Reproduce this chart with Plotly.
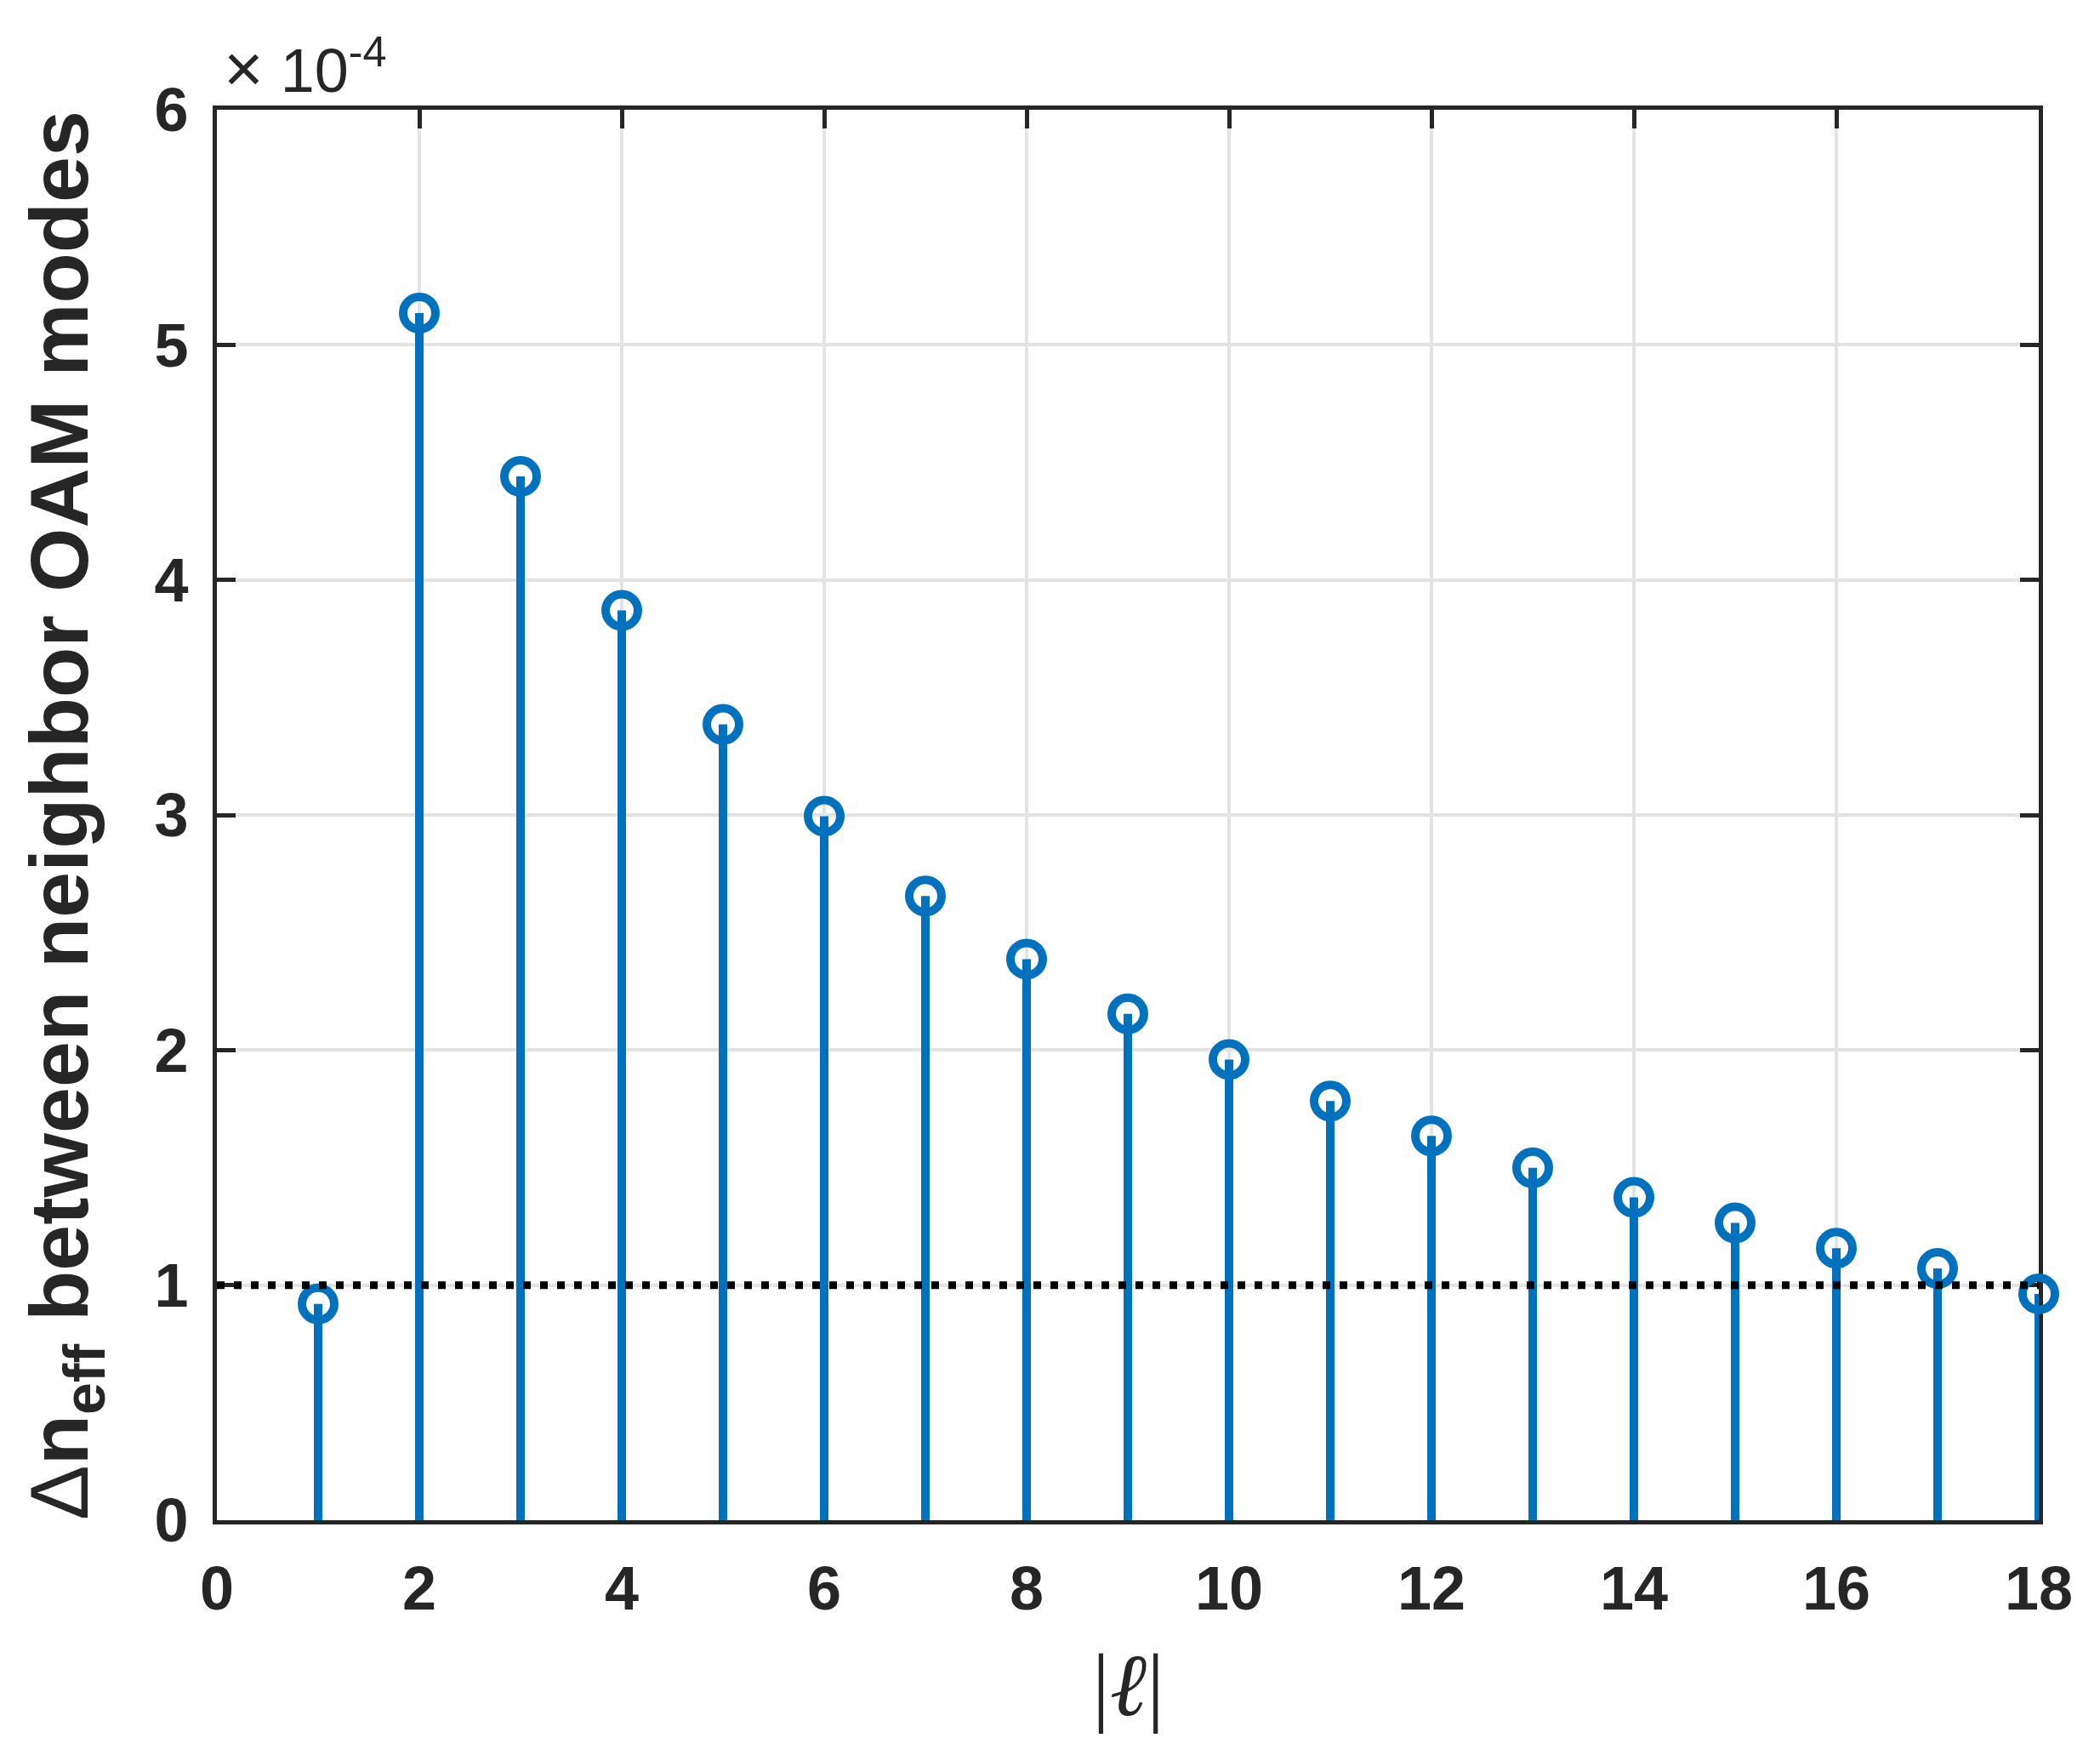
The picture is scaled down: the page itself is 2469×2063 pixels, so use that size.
import plotly.graph_objects as go

# |l| values and delta n_eff (in units of 1e-4)
ell = [1, 2, 3, 4, 5, 6, 7, 8, 9, 10, 11, 12, 13, 14, 15, 16, 17, 18]
dneff_e4 = [0.92, 5.135, 4.44, 3.87, 3.385, 2.995, 2.655, 2.387, 2.154, 1.96,
            1.783, 1.635, 1.499, 1.373, 1.265, 1.157, 1.071, 0.963]
threshold_e4 = 1.0

x_ticks = [0, 2, 4, 6, 8, 10, 12, 14, 16, 18]
y_ticks = [0, 1, 2, 3, 4, 5, 6]

blue = '#0072BD'
ink = '#262626'
font = 'Liberation Sans'

# stems: one segment per point, separated by None
stem_x, stem_y = [], []
for l, v in zip(ell, dneff_e4):
    stem_x += [l, l, None]
    stem_y += [0, v, None]

fig = go.Figure()
fig.add_trace(go.Scatter(
    x=stem_x, y=stem_y, mode='lines',
    line=dict(color=blue, width=10),
    hoverinfo='skip', showlegend=False
))
fig.add_trace(go.Scatter(
    x=ell, y=dneff_e4, mode='markers',
    marker=dict(symbol='circle-open', size=38, color=blue, line=dict(width=10, color=blue)),
    cliponaxis=False, showlegend=False
))
# dotted threshold line
fig.add_trace(go.Scatter(
    x=[x_ticks[0], x_ticks[-1]], y=[threshold_e4, threshold_e4], mode='lines',
    line=dict(color='black', width=9, dash='9px,11px'),
    hoverinfo='skip', showlegend=False
))

axis_common = dict(
    showline=True, linewidth=5, linecolor=ink, mirror='ticks',
    ticks='inside', ticklen=22, tickwidth=5, tickcolor=ink,
    showgrid=True, gridcolor='#e3e3e3', gridwidth=4,
    zeroline=False, layer='below traces',
    tickfont=dict(family=font, size=72, color=ink, weight='bold'),
)

fig.update_xaxes(range=[0, 18], tickvals=x_ticks, ticklabelstandoff=14, **axis_common)
fig.update_yaxes(range=[0, 6], tickvals=y_ticks, ticklabelstandoff=14, **axis_common)

# page body has an 8px margin, so the figure is a bit smaller than the window
fig.update_layout(
    width=2453, height=2047,
    margin=dict(l=247, r=64, t=121, b=268),
    plot_bgcolor='white', paper_bgcolor='white',
    annotations=[
        dict(text='Δ<b>n<sub>eff</sub> between neighbor OAM modes</b>',
             xref='paper', yref='paper', x=-0.113, y=0.5,
             xanchor='left', yanchor='middle', textangle=-90, showarrow=False,
             font=dict(family=font, size=97, color=ink)),
        dict(text='|<i>ℓ</i>|',
             xref='paper', yref='paper', x=0.5, y=-0.117,
             xanchor='center', yanchor='middle', showarrow=False,
             font=dict(family='Liberation Serif', size=104, color=ink)),
        dict(text='<span style="font-size:80px">×</span> 10<sup>-4</sup>',
             xref='paper', yref='paper', x=0.003, y=1,
             xanchor='left', yanchor='bottom', yshift=2, showarrow=False,
             font=dict(family=font, size=72, color=ink)),
    ]
)

fig.write_html("out.html")
